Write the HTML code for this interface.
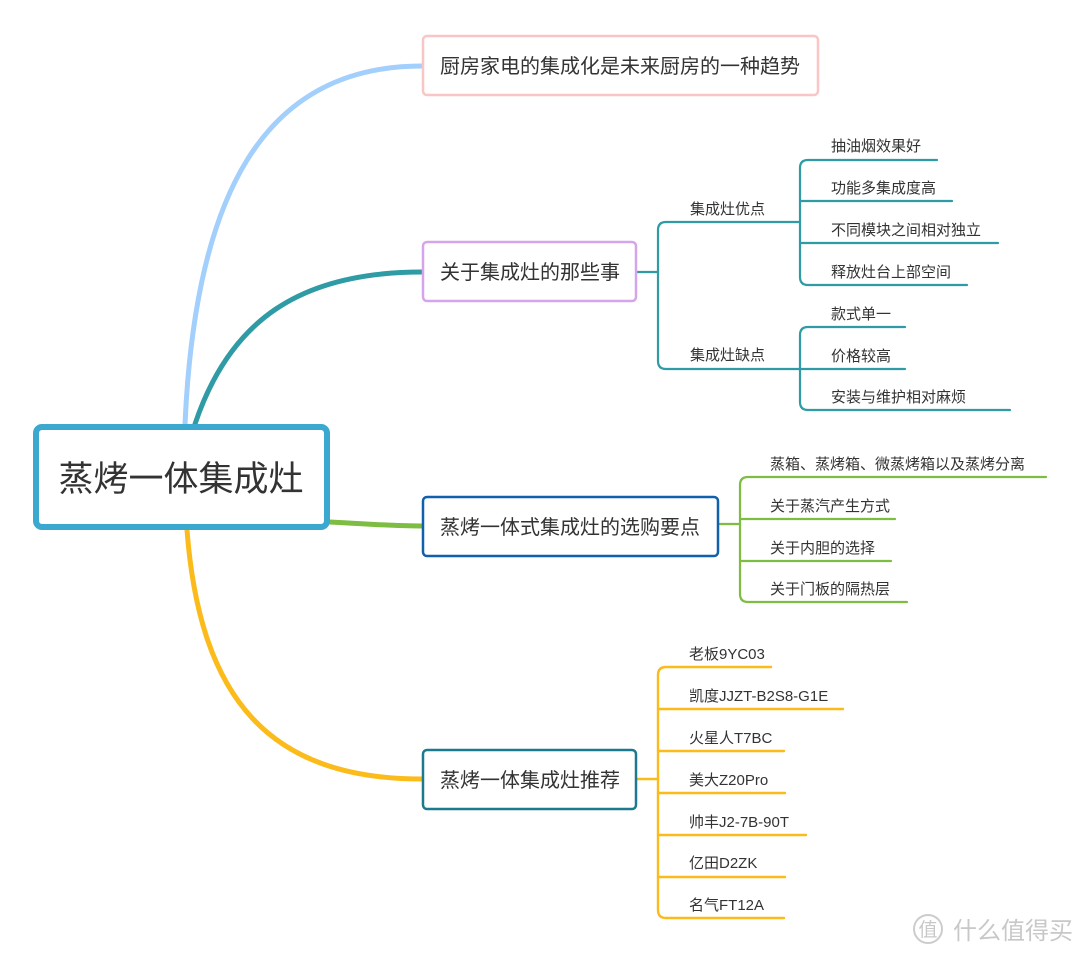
<!DOCTYPE html>
<html><head><meta charset="utf-8"><style>
body{margin:0;background:#fff}
svg{display:block}
text{font-family:"Liberation Sans","Noto Sans CJK SC",sans-serif;fill:#333}
</style></head><body>
<svg width="1080" height="956" viewBox="0 0 1080 956" xmlns="http://www.w3.org/2000/svg">
<g fill="none" stroke-linecap="round">
<path d="M185 424 C195 200 260 66 422 66" stroke="#a2cffc" stroke-width="5"/>
<path d="M195 424 C230 320 300 272 422 272" stroke="#2e9ba5" stroke-width="5"/>
<path d="M330 522 C370 524 390 526 422 526" stroke="#7cbd42" stroke-width="5"/>
<path d="M187 530 C200 700 270 779 422 779" stroke="#fbbb1a" stroke-width="5"/>
<!-- branch 2 -->
<g stroke="#2e9ba5" stroke-width="2.2">
<path d="M636 272 H658"/>
<path d="M800 222 H666 Q658 222 658 230 V361 Q658 369 666 369 H800"/>
<path d="M937 160 H808 Q800 160 800 168 V277 Q800 285 808 285 H967"/>
<path d="M800 201 H952 M800 243 H998"/>
<path d="M905 327 H808 Q800 327 800 335 V402 Q800 410 808 410 H1010"/>
<path d="M800 369 H905"/>
</g>
<!-- branch 3 -->
<g stroke="#7cbd42" stroke-width="2.2">
<path d="M718 524 H740"/>
<path d="M1046 477 H748 Q740 477 740 485 V594 Q740 602 748 602 H907"/>
<path d="M740 519 H895 M740 561 H891"/>
</g>
<!-- branch 4 -->
<g stroke="#fbbb1a" stroke-width="2.4">
<path d="M636 779 H658"/>
<path d="M771 667 H666 Q658 667 658 675 V910 Q658 918 666 918 H784"/>
<path d="M658 709 H843 M658 751 H784 M658 793 H785 M658 835 H806 M658 877 H785"/>
</g>
</g>
<!-- boxes -->
<rect x="36" y="427" width="291" height="100" rx="6" fill="#fff" stroke="#3ba8cf" stroke-width="6"/>
<text x="181" y="491" font-size="35" text-anchor="middle">蒸烤一体集成灶</text>
<rect x="423" y="36" width="395" height="59" rx="4" fill="#fff" stroke="#f9c6c6" stroke-width="2.5"/>
<text x="620" y="73" font-size="20" text-anchor="middle">厨房家电的集成化是未来厨房的一种趋势</text>
<rect x="423" y="242" width="213" height="59" rx="4" fill="#fff" stroke="#d4a5ea" stroke-width="2.5"/>
<text x="530" y="279" font-size="20" text-anchor="middle">关于集成灶的那些事</text>
<rect x="423" y="497" width="295" height="59" rx="4" fill="#fff" stroke="#1160ad" stroke-width="2.5"/>
<text x="570" y="534" font-size="20" text-anchor="middle">蒸烤一体式集成灶的选购要点</text>
<rect x="423" y="750" width="213" height="59" rx="4" fill="#fff" stroke="#1b7a8d" stroke-width="2.5"/>
<text x="530" y="787" font-size="20" text-anchor="middle">蒸烤一体集成灶推荐</text>
<g font-size="15">
<text x="690" y="214">集成灶优点</text>
<text x="690" y="360">集成灶缺点</text>
<text x="831" y="151">抽油烟效果好</text>
<text x="831" y="193">功能多集成度高</text>
<text x="831" y="235">不同模块之间相对独立</text>
<text x="831" y="277">释放灶台上部空间</text>
<text x="831" y="319">款式单一</text>
<text x="831" y="361">价格较高</text>
<text x="831" y="402">安装与维护相对麻烦</text>
<text x="770" y="469">蒸箱、蒸烤箱、微蒸烤箱以及蒸烤分离</text>
<text x="770" y="511">关于蒸汽产生方式</text>
<text x="770" y="553">关于内胆的选择</text>
<text x="770" y="594">关于门板的隔热层</text>
<text x="689" y="659">老板9YC03</text>
<text x="689" y="701">凯度JJZT-B2S8-G1E</text>
<text x="689" y="743">火星人T7BC</text>
<text x="689" y="785">美大Z20Pro</text>
<text x="689" y="827">帅丰J2-7B-90T</text>
<text x="689" y="868">亿田D2ZK</text>
<text x="689" y="910">名气FT12A</text>
</g>
<circle cx="928" cy="929" r="14" fill="none" stroke="#ccc" stroke-width="2"/>
<text x="928" y="936" font-size="19" text-anchor="middle" style="fill:#c8c8c8">值</text>
<text x="953" y="939" font-size="24" style="fill:#c8c8c8">什么值得买</text>
</svg>
</body></html>
